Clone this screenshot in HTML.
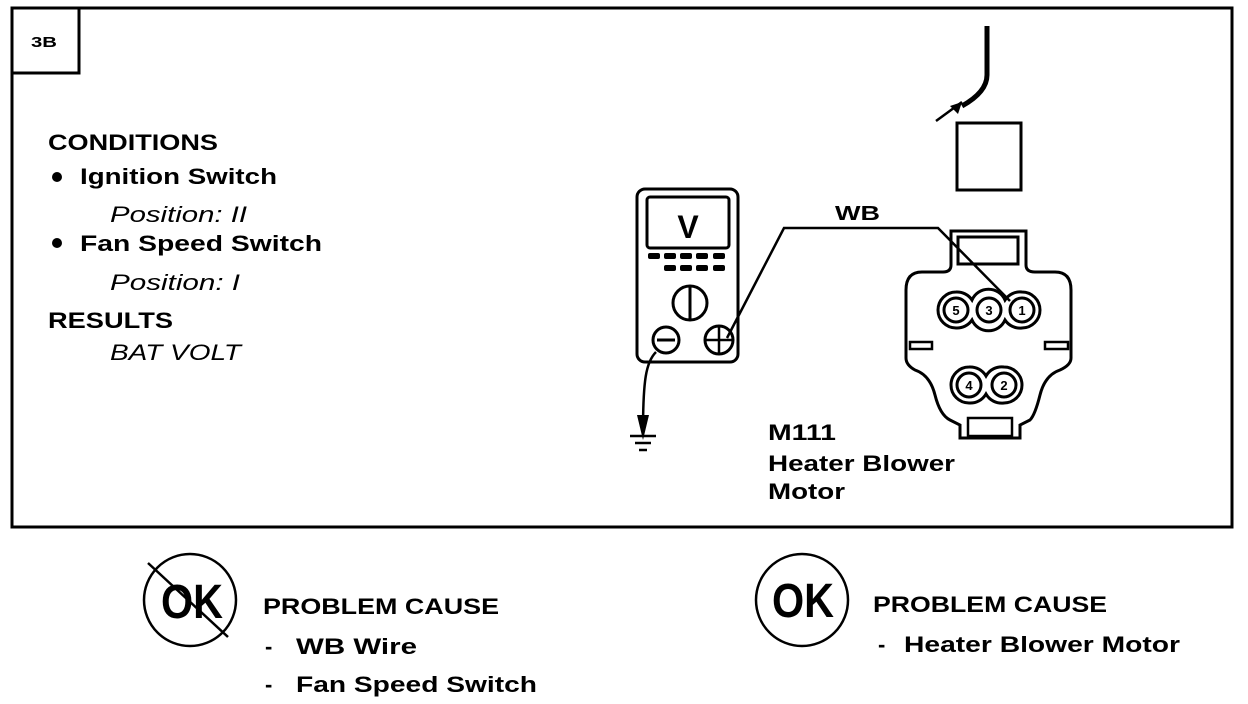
<!DOCTYPE html>
<html><head><meta charset="utf-8"><style>
html,body{margin:0;padding:0;background:#fff;}
svg{display:block;}
text{font-family:"Liberation Sans",sans-serif;font-weight:bold;fill:#000;}
.i{font-style:italic;font-weight:normal;}
</style></head><body>
<svg width="1248" height="704" viewBox="0 0 1248 704" xmlns="http://www.w3.org/2000/svg">
<g fill="none" stroke="#000">
<rect x="12" y="8" width="1220" height="519" stroke-width="3"/>
<polyline points="12,73 79,73 79,8" stroke-width="3"/>
<rect x="637" y="189" width="101" height="173" rx="8" stroke-width="3"/>
<rect x="647" y="197" width="82" height="51" rx="3" stroke-width="3"/>
<circle cx="690" cy="303" r="17" stroke-width="3"/>
<line x1="690" y1="287" x2="690" y2="320" stroke-width="3"/>
<circle cx="666" cy="340" r="13" stroke-width="3"/>
<line x1="657" y1="340" x2="675" y2="340" stroke-width="3"/>
<circle cx="719" cy="340" r="14" stroke-width="3"/>
<line x1="705" y1="340" x2="733" y2="340" stroke-width="2.5"/>
<line x1="719" y1="326" x2="719" y2="354" stroke-width="2.5"/>
<polyline points="727,338 784,228 938,228 1010,301" stroke-width="2.5"/>
<path d="M656,352 C646,362 643,380 643,432" stroke-width="2.5"/>
<line x1="630" y1="436" x2="656" y2="436" stroke-width="2.5"/>
<line x1="635" y1="443" x2="651" y2="443" stroke-width="2.5"/>
<line x1="639" y1="450" x2="647" y2="450" stroke-width="2.5"/>
<path d="M987,26 L987,75 Q987,92 962,106" stroke-width="5"/>
<line x1="936" y1="121" x2="962" y2="102" stroke-width="2.5"/>
<rect x="957" y="123" width="64" height="67" stroke-width="3"/>
<path d="M951,231 L1026,231 L1026,265 Q1026,272 1035,272 L1055,272 Q1071,272 1071,290 L1071,358 Q1071,365 1060,370 Q1045,375 1040,395 Q1035,415 1030,420 L1020,425 L1020,438 L960,438 L960,425 L950,420 Q940,415 935,395 Q930,375 915,370 Q906,365 906,358 L906,290 Q906,272 922,272 L943,272 Q951,272 951,265 Z" stroke-width="3"/>
<rect x="958" y="237" width="60" height="27" stroke-width="3"/>
<rect x="910" y="342" width="22" height="7" stroke-width="2.5"/>
<rect x="1045" y="342" width="23" height="7" stroke-width="2.5"/>
<rect x="968" y="418" width="44" height="18" stroke-width="2.5"/>
<path d="M956,292 A18,18 0 0 1 972,300 A18,18 0 0 1 1005,300 A18,18 0 0 1 1022,292 A18,18 0 0 1 1022,328 A18,18 0 0 1 1005,320 A18,18 0 0 1 972,320 A18,18 0 0 1 956,328 A18,18 0 0 1 956,292 Z" stroke-width="3"/>
<circle cx="956" cy="310" r="12" stroke-width="3"/>
<circle cx="989" cy="310" r="12" stroke-width="3"/>
<circle cx="1022" cy="310" r="12" stroke-width="3"/>
<path d="M969,367 A18,18 0 0 1 986,376 A18,18 0 0 1 1004,367 A18,18 0 0 1 1004,403 A18,18 0 0 1 986,394 A18,18 0 0 1 969,403 A18,18 0 0 1 969,367 Z" stroke-width="3"/>
<circle cx="969" cy="385" r="12" stroke-width="3"/>
<circle cx="1004" cy="385" r="12" stroke-width="3"/>
<circle cx="190" cy="600" r="46" stroke-width="2.5"/>
<line x1="148" y1="563" x2="228" y2="637" stroke-width="2.5"/>
<circle cx="802" cy="600" r="46" stroke-width="2.5"/>
</g>
<polygon points="643,440 637,415 649,415" fill="#000"/>
<polygon points="962,102 950,106 958,114" fill="#000"/>
<g fill="#000">
<rect x="648" y="253" width="12" height="6" rx="2"/><rect x="664" y="253" width="12" height="6" rx="2"/><rect x="680" y="253" width="12" height="6" rx="2"/><rect x="696" y="253" width="12" height="6" rx="2"/><rect x="713" y="253" width="12" height="6" rx="2"/>
<rect x="664" y="265" width="12" height="6" rx="2"/><rect x="680" y="265" width="12" height="6" rx="2"/><rect x="696" y="265" width="12" height="6" rx="2"/><rect x="713" y="265" width="12" height="6" rx="2"/>
<circle cx="57" cy="177" r="5"/><circle cx="57" cy="243" r="5"/>
</g>
<g lengthAdjust="spacingAndGlyphs">
<text x="31" y="47" font-size="15" textLength="26" lengthAdjust="spacingAndGlyphs">3B</text>
<text x="48" y="150" font-size="22" textLength="170" lengthAdjust="spacingAndGlyphs">CONDITIONS</text>
<text x="80" y="184" font-size="22" textLength="197" lengthAdjust="spacingAndGlyphs">Ignition Switch</text>
<text class="i" x="110" y="222" font-size="22" textLength="137" lengthAdjust="spacingAndGlyphs">Position: II</text>
<text x="80" y="251" font-size="22" textLength="242" lengthAdjust="spacingAndGlyphs">Fan Speed Switch</text>
<text class="i" x="110" y="290" font-size="22" textLength="130" lengthAdjust="spacingAndGlyphs">Position: I</text>
<text x="48" y="328" font-size="22" textLength="125" lengthAdjust="spacingAndGlyphs">RESULTS</text>
<text class="i" x="110" y="360" font-size="22" textLength="131" lengthAdjust="spacingAndGlyphs">BAT VOLT</text>
<text x="688" y="238" font-size="32" text-anchor="middle">V</text>
<text x="835" y="220" font-size="20" textLength="45" lengthAdjust="spacingAndGlyphs">WB</text>
<g font-size="13" text-anchor="middle">
<text x="956" y="315">5</text><text x="989" y="315">3</text><text x="1022" y="315">1</text>
<text x="969" y="390">4</text><text x="1004" y="390">2</text>
</g>
<text x="768" y="440" font-size="22" textLength="68" lengthAdjust="spacingAndGlyphs">M111</text>
<text x="768" y="471" font-size="22" textLength="187" lengthAdjust="spacingAndGlyphs">Heater Blower</text>
<text x="768" y="499" font-size="22" textLength="77" lengthAdjust="spacingAndGlyphs">Motor</text>
<text x="161" y="618" font-size="48" textLength="62" lengthAdjust="spacingAndGlyphs">OK</text>
<text x="772" y="617" font-size="48" textLength="62" lengthAdjust="spacingAndGlyphs">OK</text>
<text x="263" y="614" font-size="22" textLength="236" lengthAdjust="spacingAndGlyphs">PROBLEM CAUSE</text>
<text x="265" y="654" font-size="22">-</text>
<text x="296" y="654" font-size="22" textLength="121" lengthAdjust="spacingAndGlyphs">WB  Wire</text>
<text x="265" y="692" font-size="22">-</text>
<text x="296" y="692" font-size="22" textLength="241" lengthAdjust="spacingAndGlyphs">Fan Speed Switch</text>
<text x="873" y="612" font-size="22" textLength="234" lengthAdjust="spacingAndGlyphs">PROBLEM CAUSE</text>
<text x="878" y="652" font-size="22">-</text>
<text x="904" y="652" font-size="22" textLength="276" lengthAdjust="spacingAndGlyphs">Heater Blower Motor</text>
</g>
</svg>
</body></html>
